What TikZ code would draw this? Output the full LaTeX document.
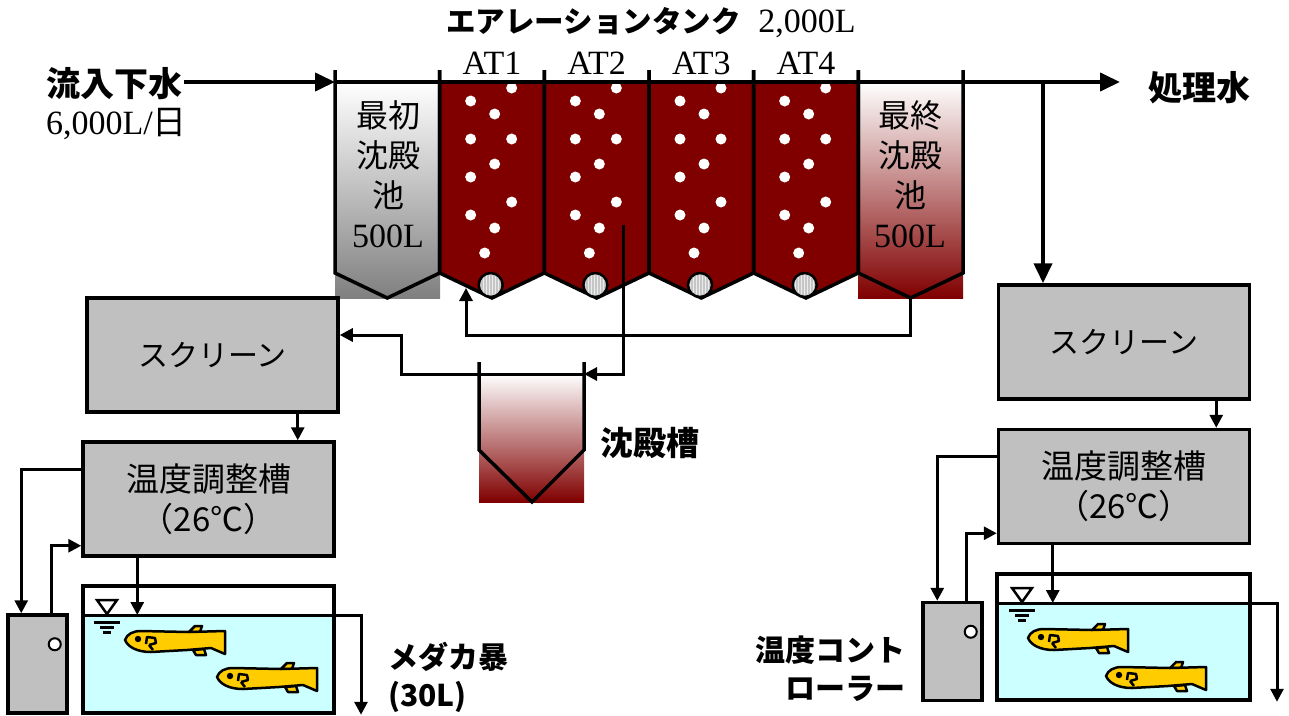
\documentclass[tikz,border=0pt]{standalone}
\usepackage{fontspec}
\setmainfont{Liberation Serif}
\newfontfamily\jp{Noto Sans CJK JP}
\usetikzlibrary{positioning}
\usetikzlibrary{calc}
\usetikzlibrary{arrows.meta}
\usetikzlibrary{patterns}

\definecolor{sludge}{RGB}{128,0,0}
\definecolor{boxgray}{RGB}{192,192,192}
\definecolor{water}{RGB}{204,255,255}
\definecolor{medaka}{RGB}{255,204,0}

\begin{document}
\begin{tikzpicture}[x=1pt,y=-1pt,
    flow/.style={line width=3pt,-{Triangle[length=13pt,width=13pt]}},
    mainflow/.style={line width=4pt,-{Triangle[length=20pt,width=18pt]}},
    unit/.style={draw,line width=3.5pt,fill=boxgray,minimum width=251pt,minimum height=114pt,
      align=center,font=\jp\fontsize{33}{40}\selectfont},
    ctrl/.style={draw,line width=3.5pt,fill=boxgray,minimum width=59pt,minimum height=98pt},
    jplabel/.style={inner sep=2pt,font=\jp\bfseries\fontsize{30}{38}\selectfont},
    serif/.style={inner sep=2pt,font=\rmfamily\fontsize{34}{38}\selectfont},
    wall/.style={line width=3.5pt,line join=miter},
    fishbody/.style={fill=medaka,line width=2.5pt,line join=round},
    wlevel/.pic={
      \draw[line width=2.5pt,fill=white] (-10,-14) -- (10,-14) -- (0,0) -- cycle;
      \draw[line width=3pt] (-13,8) -- (13,8) (-7,13) -- (7,13) (-4,18) -- (4,18);
    },
    fish/.pic={
      \filldraw[fishbody] (64,-8) -- (70,-14) -- (77,-14) -- (75,-8) -- cycle;
      \filldraw[fishbody] (68,10) -- (79,9) -- (81,15) -- (71,15) -- cycle;
      \filldraw[fishbody] (0,0) .. controls (2,-6) and (8,-9) .. (16,-9) -- (64,-8) -- (100,-9)
        -- (100,14) -- (86,8) -- (62,10) -- (26,12) .. controls (12,12) and (3,7) .. (0,0) -- cycle;
      \fill (13,-1) circle (3.2);
      \draw[line width=2.5pt,line join=round] (21,4) -- (22,-3) -- (30,-2) -- (31,3) -- (24,5) (24,5) -- (28,10);
    }]
  \useasboundingbox (0,0) rectangle (1289,715);

  % tank bodies
  \shade[top color=white,bottom color=gray] (335,82) rectangle (440,298);
  \shade[top color=white,bottom color=sludge] (858,82) rectangle (963,298);
  \foreach \i in {1,...,4}{
    \pgfmathsetmacro\xo{335+104.667*\i}
    \fill[sludge] (\xo,82) -- (\xo,273) -- ({\xo+52.3},298) -- ({\xo+104.667},273) -- ({\xo+104.667},82) -- cycle;
  }
  \foreach \i in {0,...,5}{
    \pgfmathsetmacro\xo{335+104.667*\i}
    \draw[wall] (\xo,70) -- (\xo,273) -- ({\xo+52.3},298) -- ({\xo+104.667},273) -- ({\xo+104.667},70);
  }
  \foreach \i in {1,...,4}{
    \pgfmathsetmacro\xo{335+104.667*\i}
    \foreach \dx/\dy in {72/88,31/101,55/114,31/139,72/139,55/164,31/177,72/202,31/215,55/228,45/253}
      \fill[white] ({\xo+\dx},\dy) circle (5.5);
    \filldraw[line width=2.5pt,fill=gray!45] ({\xo+51},285) circle (12);
    \fill[pattern=vertical lines,pattern color=gray!15] ({\xo+51},285) circle (10);
    \node[serif] (at\i) at ({\xo+52.3},63) {AT\i};
  }
  \node[align=center,font=\jp\fontsize{32}{40}\selectfont] (prim) at (388,174) {最初\\沈殿\\池\\{\rmfamily\fontsize{34}{40}\selectfont 500L}};
  \node[align=center,font=\jp\fontsize{32}{40}\selectfont] (fin) at (910,174) {最終\\沈殿\\池\\{\rmfamily\fontsize{34}{40}\selectfont 500L}};
  \node[font=\jp\bfseries\fontsize{29.5}{36}\selectfont] (title) at (651,23) {エアレーションタンク\hspace{0.6em}{\rmfamily\mdseries\fontsize{34}{36}\selectfont 2,000L}};

  % inflow and outflow
  \node[jplabel,anchor=west,font=\jp\bfseries\fontsize{34}{38}\selectfont] (inflow) at (44,84) {流入下水};
  \node[serif,anchor=west] (inrate) at (44,124) {6,000L/{\jp 日}};
  \node[jplabel,anchor=west,font=\jp\bfseries\fontsize{34}{38}\selectfont] (outflow) at (1146,88) {処理水};
  \coordinate (pin) at (335,82);
  \coordinate (pout) at (1120,82);
  \coordinate (tap) at (1043,82);
  \draw[mainflow] (inflow.east |- pin) -- (pin);
  \draw[mainflow] (pin) -- (pout);

  % sedimentation tank
  \shade[top color=white,bottom color=sludge] (479,374) rectangle (584,502);
  \draw[wall] (479,362) -- (479,450) -- (532,502) -- (584,450) -- (584,362);
  \node[jplabel,anchor=west,font=\jp\bfseries\fontsize{33}{38}\selectfont] (sedlabel) at (598,443) {沈殿槽};
  \coordinate (sedR) at (584,374);
  \coordinate (at2out) at (623,225);
  \coordinate (finout) at (910,298);
  \coordinate (at1in) at (466,288);

  % left line
  \node[unit,font=\jp\fontsize{30}{40}\selectfont] (scrL) at (212.5,355) {スクリーン};
  \node[unit] (tmpL) at (208.5,499) {温度調整槽\\（26℃）};
  \node[ctrl] (ctrlL) at (37.5,664) {};
  \draw[line width=2pt,fill=white] ([xshift=-14pt,yshift=-31pt]ctrlL.north east) circle (6);
  \fill[water] (83,615) rectangle (334,713);
  \node[draw,line width=3.5pt,minimum width=251pt,minimum height=127pt] (tankL) at (208.5,649.5) {};
  \coordinate (surfL) at (83,615);
  \coordinate (drainL) at (361,615);
  \pic at (107,614) {wlevel};
  \pic at (125,640) {fish};
  \pic at (217,677) {fish};
  \node[jplabel,anchor=north west,align=left] (tankLabel) at (386,640) {メダカ暴\\(30L)};

  % right line
  \node[unit,font=\jp\fontsize{30}{40}\selectfont] (scrR) at (1124,342) {スクリーン};
  \node[unit] (tmpR) at (1124,486.5) {温度調整槽\\（26℃）};
  \node[ctrl] (ctrlR) at (952.5,651.5) {};
  \draw[line width=2pt,fill=white] ([xshift=-13pt,yshift=-31pt]ctrlR.north east) circle (6);
  \fill[water] (997,603) rectangle (1250,700);
  \node[draw,line width=3.5pt,minimum width=253pt,minimum height=126pt] (tankR) at (1123.5,637) {};
  \coordinate (surfR) at (997,603);
  \coordinate (drainR) at (1277,603);
  \pic at (1022,602) {wlevel};
  \pic at (1028,638) {fish};
  \pic at (1106,676) {fish};
  \node[jplabel,align=right,anchor=east] (ctrlLabel) at (908,669) {温度コント\\ローラー};

  % connections
  \draw[flow] (at2out) |- (sedR);
  \draw[flow] (sedR) -- (401,374) -- (401,335) -- ([yshift=20pt]scrL.east);
  \draw[flow] (finout) -- (910,335) -| (at1in);
  \draw[mainflow] (tap) -- (tap |- scrR.north);
  \draw[flow] ([xshift=-42pt]scrL.south east) -- ([xshift=-42pt]scrL.south east |- tmpL.north);
  \draw[flow] ([xshift=-35pt]scrR.south east) -- ([xshift=-35pt]scrR.south east |- tmpR.north);
  \draw[flow] ([yshift=-29pt]tmpL.north west) -| ([xshift=15pt]ctrlL.north west);
  \draw[flow] ([xshift=45pt]ctrlL.north west) |- ([yshift=12pt]tmpL.south west);
  \draw[flow] ([yshift=-29pt]tmpR.north west) -| ([xshift=16pt]ctrlR.north west);
  \draw[flow] ([xshift=45pt]ctrlR.north west) |- ([yshift=12pt]tmpR.south west);
  \draw[flow] ([xshift=56pt]tmpL.south west) -- ([xshift=56pt]tmpL.south west |- surfL);
  \draw[flow] ([xshift=56pt]tmpR.south west) -- ([xshift=56pt]tmpR.south west |- surfR);
  \draw[flow] (surfL) -- (drainL) -- (drainL |- tankL.south);
  \draw[flow] (surfR) -- (drainR) -- (drainR |- tankR.south);
\end{tikzpicture}
\end{document}
